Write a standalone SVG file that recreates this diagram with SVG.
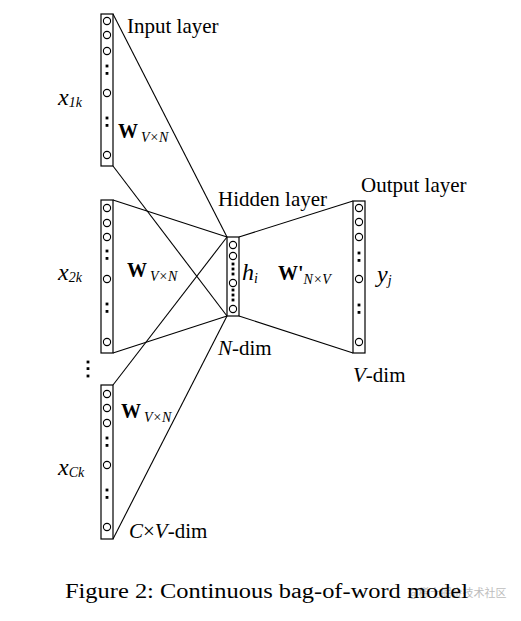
<svg xmlns="http://www.w3.org/2000/svg" width="521" height="621" viewBox="0 0 521 621">
<style>
text{font-family:"Liberation Serif","Times New Roman",serif;fill:#000}
.lbl{font-size:21px}
.it{font-style:italic}
.var{font-size:24px;font-style:italic}
.sub{font-size:14px;font-style:italic;font-weight:normal}
.W{font-size:20px;font-weight:bold}
.box{fill:#fff;stroke:#000;stroke-width:1.2}
.n{fill:#fff;stroke:#000;stroke-width:1.1}
.ln{stroke:#000;stroke-width:1.1;fill:none}
</style>
<defs>
<circle id="c" r="3.6" class="n"/>
<g id="d2"><rect x="-1.4" y="-1.4" width="2.8" height="2.8"/><rect x="-1.4" y="6" width="2.8" height="2.8"/></g>
<g id="d3"><rect x="-1.4" y="-1.4" width="2.8" height="2.8"/><rect x="-1.4" y="3.6" width="2.8" height="2.8"/><rect x="-1.4" y="8.6" width="2.8" height="2.8"/></g>
</defs>
<rect width="521" height="621" fill="#fff"/>
<g id="connectors">
<line class="ln" x1="113" y1="14" x2="227" y2="237"/>
<line class="ln" x1="113" y1="166" x2="227" y2="316"/>
<line class="ln" x1="113" y1="200" x2="227" y2="237"/>
<line class="ln" x1="113" y1="353" x2="227" y2="316"/>
<line class="ln" x1="113" y1="385" x2="227" y2="237"/>
<line class="ln" x1="113" y1="539" x2="227" y2="316"/>
<line class="ln" x1="239" y1="237" x2="353" y2="201"/>
<line class="ln" x1="239" y1="316" x2="353" y2="353"/>
</g>
<g id="input1">
<rect class="box" x="101" y="14" width="12" height="152"/>
<use href="#c" x="107" y="21"/><use href="#c" x="107" y="35"/><use href="#c" x="107" y="51"/>
<use href="#d2" x="107" y="66"/>
<use href="#c" x="107" y="93"/>
<use href="#d2" x="107" y="118"/>
<use href="#c" x="107" y="155"/>
<text class="var" x="58" y="105">x<tspan class="sub" dy="2">1k</tspan></text>
<text class="W" x="118" y="138">W<tspan class="sub" dx="3" dy="4">V×N</tspan></text>
<text class="lbl" x="127" y="33">Input layer</text>
</g>
<g id="input2">
<rect class="box" x="101" y="200" width="12" height="153"/>
<use href="#c" x="107" y="208"/><use href="#c" x="107" y="223"/><use href="#c" x="107" y="237"/>
<use href="#d2" x="107" y="251"/>
<use href="#c" x="107" y="279"/>
<use href="#d2" x="107" y="304"/>
<use href="#c" x="107" y="342"/>
<text class="var" x="58" y="280">x<tspan class="sub" dy="2">2k</tspan></text>
<text class="W" x="127" y="277">W<tspan class="sub" dx="3" dy="4">V×N</tspan></text>
</g>
<g id="ellipsis">
<rect x="86.6" y="360.6" width="2.8" height="2.8"/>
<rect x="86.6" y="367.2" width="2.8" height="2.8"/>
<rect x="86.6" y="374.6" width="2.8" height="2.8"/>
</g>
<g id="input3">
<rect class="box" x="101" y="385" width="12" height="154"/>
<use href="#c" x="107" y="394"/><use href="#c" x="107" y="408"/><use href="#c" x="107" y="423"/>
<use href="#d2" x="107" y="438"/>
<use href="#c" x="107" y="465"/>
<use href="#d2" x="107" y="490"/>
<use href="#c" x="107" y="527"/>
<text class="var" x="58" y="475">x<tspan class="sub" dy="2">Ck</tspan></text>
<text class="W" x="121" y="418">W<tspan class="sub" dx="3" dy="4">V×N</tspan></text>
<text class="lbl" x="129" y="538"><tspan class="it">C</tspan>×<tspan class="it">V</tspan>-dim</text>
</g>
<g id="hidden">
<rect class="box" x="227" y="237" width="12" height="79"/>
<use href="#c" x="233" y="245"/><use href="#c" x="233" y="256"/>
<use href="#d3" x="233" y="264"/>
<use href="#c" x="233" y="283"/>
<use href="#d3" x="233" y="290"/>
<use href="#c" x="233" y="309"/>
<text class="lbl" x="218" y="206">Hidden layer</text>
<text class="var" x="242" y="280">h<tspan class="sub" dy="3">i</tspan></text>
<text class="lbl" x="218" y="355"><tspan class="it">N</tspan>-dim</text>
</g>
<g id="output">
<rect class="box" x="353" y="201" width="12" height="152"/>
<use href="#c" x="359" y="208"/><use href="#c" x="359" y="222"/><use href="#c" x="359" y="237"/>
<use href="#d2" x="359" y="253"/>
<use href="#c" x="359" y="279"/>
<use href="#d2" x="359" y="305"/>
<use href="#c" x="359" y="342"/>
<text class="lbl" x="361" y="192">Output layer</text>
<text class="var" x="377" y="282">y<tspan class="sub" dy="3">j</tspan></text>
<text class="lbl" x="353" y="382"><tspan class="it">V</tspan>-dim</text>
</g>
<g id="wprime">
<text class="W" x="278" y="280">W<tspan font-size="20">'</tspan><tspan class="sub" dy="4">N×V</tspan></text>
</g>
<g id="caption">
<text x="408" y="597" font-size="11" style="font-family:'Noto Sans CJK SC',sans-serif;fill:#bdbdbd">@稀土掘金技术社区</text>
<text x="65" y="598" font-size="20" textLength="403" lengthAdjust="spacingAndGlyphs">Figure 2: Continuous bag-of-word model</text>
</g>
</svg>
